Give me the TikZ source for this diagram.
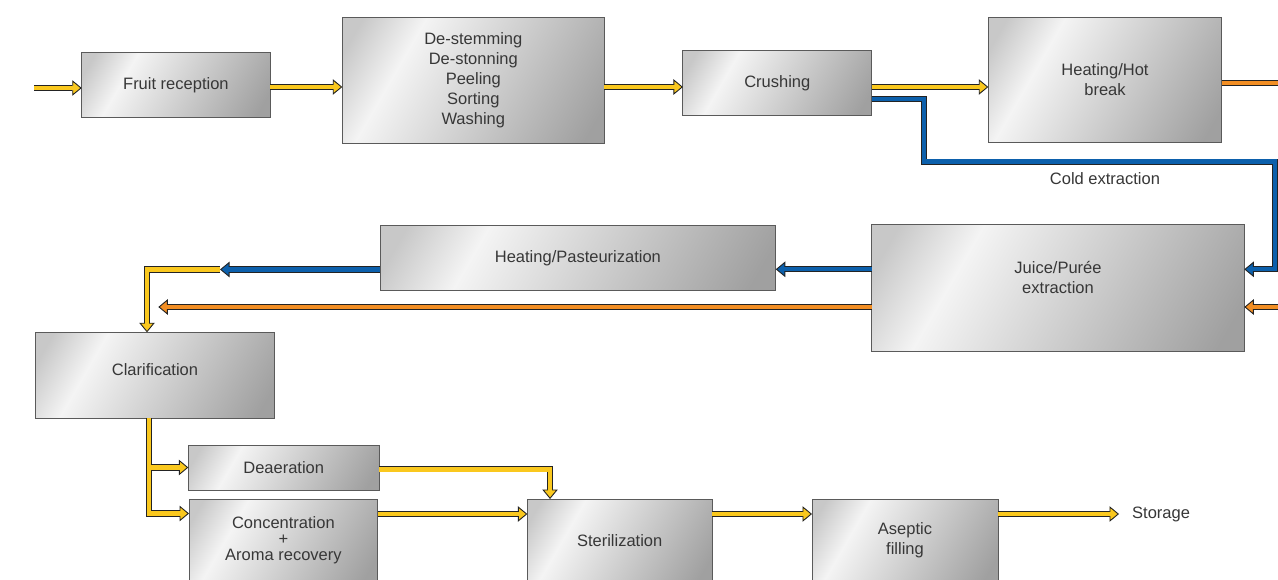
\documentclass[tikz,border=0pt]{standalone}
\usepackage{fontspec}
\setmainfont{Liberation Sans}
\usetikzlibrary{arrows.meta}
\definecolor{pY}{RGB}{250,200,30}
\definecolor{pO}{RGB}{242,142,35}
\definecolor{pB}{RGB}{12,96,172}
\definecolor{pL}{RGB}{35,35,35}
\definecolor{bxA}{RGB}{200,200,200}
\definecolor{bxW}{RGB}{244,244,244}
\definecolor{bxD}{RGB}{160,160,160}
\definecolor{bxL}{RGB}{90,90,90}
\definecolor{tx}{RGB}{55,55,55}
\pgfdeclarehorizontalshading{boxshade}{100bp}{color(0bp)=(bxA); color(20bp)=(bxA); color(33bp)=(bxW); color(80bp)=(bxD); color(100bp)=(bxD)}
\begin{document}
\begin{tikzpicture}[x=1pt,y=-1pt,
  gbox/.style={draw=bxL, line width=1pt, shade, shading=boxshade, shading angle=#1, inner sep=0pt, outer sep=0pt, align=center, text=tx, font=\fontsize{16.5}{20}\selectfont},
  txt/.style={text=tx, align=center, font=\fontsize{16.5}{20}\selectfont, inner sep=0pt},
  pipe/.style={line width=6.2pt, draw=pL, -{Triangle[length=9.5pt,width=15.5pt,line width=0.9pt,fill=#1]}, postaction={draw=#1, line width=4.4pt, -, shorten >=7.5pt}},
]
\useasboundingbox (0,0) rectangle (1278,580);
\clip (0,0) rectangle (1278,580);
\fill[white] (0,0) rectangle (1278,580);

% boxes
\node[gbox=-30, minimum width=188.3pt, minimum height=65pt] (fruit) at (175.9,84.8) {Fruit reception};
\node[gbox=-30, minimum width=262pt, minimum height=126pt] (destem) at (473.3,80.3) {De-stemming\\De-stonning\\Peeling\\Sorting\\Washing};
\node[gbox=-30, minimum width=188.7pt, minimum height=65pt] (crush) at (777.3,83.5) {Crushing};
\node[gbox=-30, minimum width=233.4pt, minimum height=125.2pt] (heat) at (1105,80.1) {Heating/Hot\\break};
\node[gbox=-30, minimum width=395.7pt, minimum height=65pt] (hp) at (577.9,258.5) {Heating/Pasteurization};
\node[gbox=-30, minimum width=372.6pt, minimum height=126.7pt, label={[txt,yshift=9.7pt]center:{Juice/Purée\\extraction}}] (juice) at (1058,287.7) {};
\node[gbox=-30, minimum width=238.6pt, minimum height=86pt, label={[txt,yshift=6pt]center:Clarification}] (clar) at (155,375.3) {};
\node[gbox=-30, minimum width=190.7pt, minimum height=45pt] (deaer) at (283.7,467.5) {Deaeration};
\node[gbox=-30, minimum width=188.7pt, minimum height=83pt, font=\fontsize{16.5}{16}\selectfont] (conc) at (283.4,540.5) {Concentration\\+\\Aroma recovery};
\node[gbox=-30, minimum width=184.7pt, minimum height=83pt] (steril) at (619.7,540.5) {Sterilization};
\node[gbox=-30, minimum width=186pt, minimum height=83pt] (asep) at (905,540.5) {Aseptic\\filling};

% texts
\node[txt] (cold) at (1105,178.3) {Cold extraction};
\node[txt, inner xsep=13pt, anchor=west] (stor) at (1119,514) {Storage};

% coordinates
\coordinate (in0) at (34,88);
\coordinate (row) at (0,87);
\coordinate (bl1) at (924,161.7);
\coordinate (bl2) at (1275,161.7);
\coordinate (or1) at (1291,307);
\coordinate (pj) at (220,269.5);
\coordinate (ot) at (158.3,307);
\coordinate (cl) at ([xshift=-6pt]clar.south);
\coordinate (brd) at (cl |- deaer.west);
\coordinate (row2) at (0,514);

% pipes
\draw[pipe=pY] (in0) -- (fruit.west |- in0);
\draw[pipe=pY] (fruit.east |- row) -- (destem.west |- row);
\draw[pipe=pY] (destem.east |- row) -- (crush.west |- row);
\draw[pipe=pY] (crush.east |- row) -- (heat.west |- row);
\draw[pipe=pB] ([yshift=-15.8pt]crush.east) -| (bl1) -- (bl2) |- ([yshift=18.4pt]juice.east);
\draw[pipe=pO] ([yshift=-3.2pt]heat.east) -| (or1) -- ([yshift=-19.3pt]juice.east);
\draw[pipe=pB] ([yshift=18.4pt]juice.west) -- ([yshift=18.4pt]juice.west -| hp.east);
\draw[pipe=pB] (hp.west |- pj) -- (pj);
\draw[pipe=pY] (pj) -| ([xshift=-8pt]clar.north);
\draw[pipe=pO] ([yshift=-19.3pt]juice.west) -- (ot);
\draw[pipe=pY] (cl) |- ([yshift=27pt]conc.west);
\draw[pipe=pY] ([xshift=1.6pt]brd) -- (deaer.west);
\draw[pipe=pY] ([yshift=-1.8pt]deaer.east) -| ([xshift=22.7pt]steril.north west);
\draw[pipe=pY] (conc.east |- row2) -- (steril.west |- row2);
\draw[pipe=pY] (steril.east |- row2) -- (asep.west |- row2);
\draw[pipe=pY] (asep.east |- row2) -- (stor.west |- row2);
\end{tikzpicture}
\end{document}
